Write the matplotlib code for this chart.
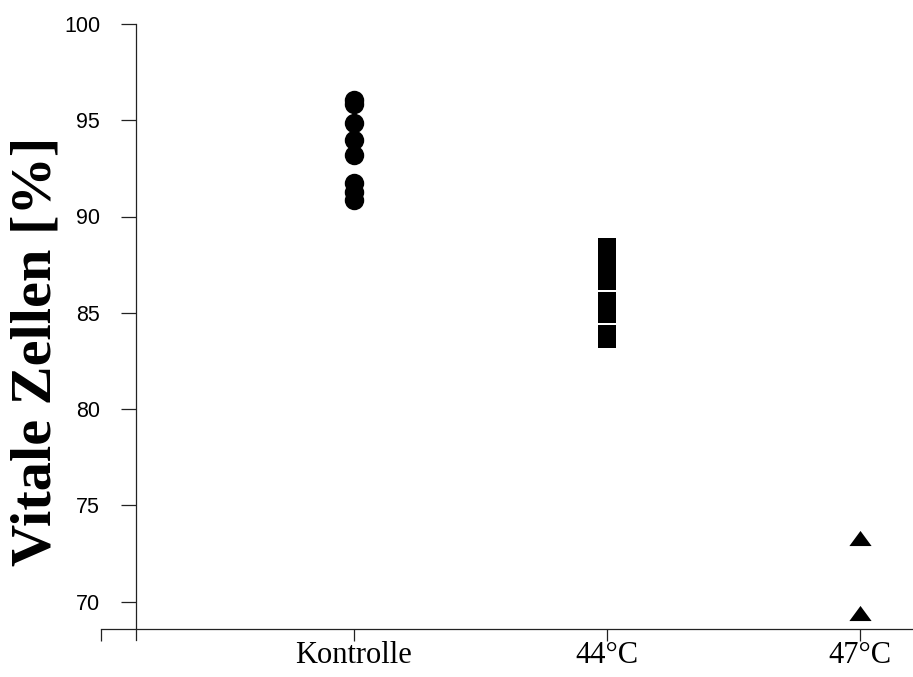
"""Vitale Zellen nach Hitzebehandlung"""
import numpy as np
import matplotlib
matplotlib.use("Agg")
import matplotlib.pyplot as plt
from matplotlib.path import Path

# data
categories = ["Kontrolle", "44°C", "47°C"]
kontrolle = [96.05, 95.84, 94.85, 93.97, 93.19, 91.73, 91.26, 90.85]
grad_44 = [88.40, 88.09, 87.78, 87.47, 87.10, 86.64, 85.60, 84.92, 83.88, 83.62]
grad_47 = [73.32, 69.42]
y_ticks = [70, 75, 80, 85, 90, 95, 100]

fig = plt.figure(figsize=(9.13, 6.77), dpi=100)
ax = fig.add_axes([101 / 913, 1 - 640 / 677, 812 / 913, 616 / 677])

# flat triangle like in the reference
tri = Path([(-1, -0.68), (1, -0.68), (0, 0.68), (-1, -0.68)])

ax.plot(np.full(len(kontrolle), 1), kontrolle, "o", color="black", ms=14, mew=0)
ax.plot(np.full(len(grad_44), 2), grad_44, "s", color="black", ms=13, mew=0)
ax.plot(np.full(len(grad_47), 3), grad_47, marker=tri, ls="none", color="black", ms=16, mew=0)

ax.set_xlim(0, 3.21)
ax.set_ylim(68, 100)

for side in ["top", "right"]:
    ax.spines[side].set_visible(False)
ax.spines["left"].set_position(("data", 0.138))
ax.spines["left"].set_bounds(68, 100)
ax.spines["bottom"].set_position(("data", 68.59))
for side in ["left", "bottom"]:
    ax.spines[side].set_linewidth(0.9)
    ax.spines[side].set_color("#222222")

ax.set_yticks(y_ticks)
ax.set_yticklabels([str(v) for v in y_ticks], fontfamily="Liberation Sans", fontsize=15.5)
ax.tick_params(axis="y", direction="out", length=10.8, width=0.9, color="#222222", pad=15)

ax.set_xticks([0, 1, 2, 3])
ax.set_xticklabels([""] + categories, fontfamily="Liberation Serif", fontsize=22)
ax.tick_params(axis="x", direction="out", length=8.6, width=0.9, color="#222222", pad=0.5)

ax.set_ylabel("Vitale Zellen [%]", fontfamily="Liberation Serif", fontweight="bold", fontsize=42)
ax.yaxis.set_label_coords(-0.048, 0.469)

fig.savefig("out.png", dpi=100)
